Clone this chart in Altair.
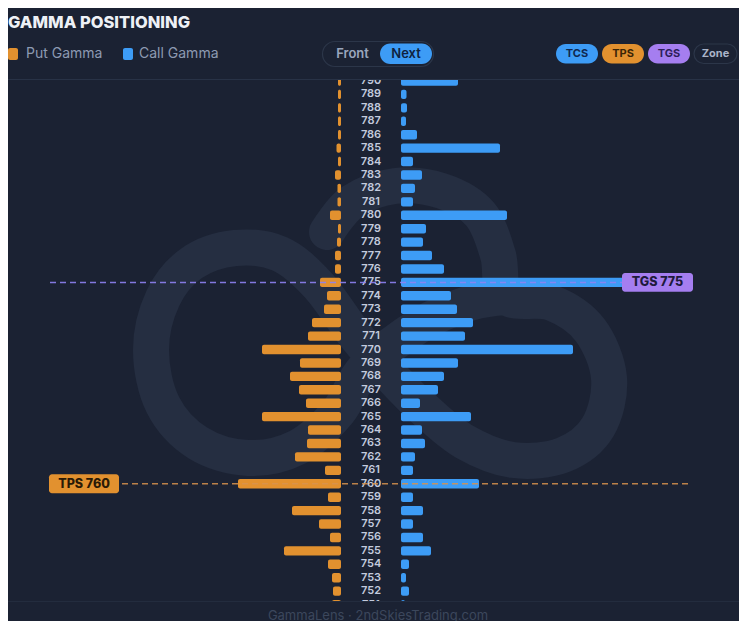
import altair as alt
import pandas as pd

# ---------------- data ----------------
strikes = list(range(790, 750, -1))
put_gamma = [3, 3, 3, 3, 3, 4.5, 3, 6, 3.5, 3.5,
             11, 3, 4, 6, 6, 21, 14, 17, 29, 33,
             79, 41, 51, 42, 35, 79, 33, 34, 46, 16,
             103, 13, 49, 22, 11, 57, 13, 9, 8, 9]
call_gamma = [57, 5.5, 6, 5, 16, 99, 12, 21, 14, 12,
              106, 25, 22, 31, 43, 232, 50, 56, 72, 64,
              172, 57, 43, 37, 19, 70, 21, 24, 14, 12,
              78, 12, 22, 12, 22, 30, 8, 5, 8, 4]
level_names = ["TGS", "TPS"]
level_strikes = [775, 760]

# ---------------- style ----------------
BG = "#1b2233"
ORANGE = "#e2912f"
BLUE = "#3d9cf6"
PURPLE = "#a57ef0"
GRID = "#283246"
FONT = "Inter"
O = 8  # page margin offset (layout written in page pixels)

# watermark logo path (decoration only, page pixels)
logo_x = [327, 352, 395, 442, 480, 498, 506, 552, 590, 609, 598, 563, 513, 465, 425,
          390, 355, 318, 280, 235, 192, 163, 151, 163, 198, 248, 298, 338, 365, 420, 470, 506]
logo_y = [232, 202, 186, 191, 214, 255, 297, 303, 330, 378, 427, 455, 460, 442, 410,
          375, 335, 285, 254, 248, 263, 298, 350, 405, 443, 458, 447, 412, 368, 325, 303, 297]

df = pd.DataFrame({"strike": strikes, "put": put_gamma, "call": call_gamma})
lv = pd.DataFrame({"name": level_names, "strike": level_strikes})
lv["label"] = lv["name"] + " " + lv["strike"].astype(str)
logo = pd.DataFrame({"x": logo_x, "y": logo_y, "i": list(range(len(logo_x)))})
one = pd.DataFrame({"a": [0]})

W, H = 731, 613

yscale = alt.Scale(domain=[751, 790], range=[604.6 - O, 81 - O], nice=False, zero=False)
put_x = alt.Scale(domain=[0, 341], range=[341 - O, -O], nice=False)
call_x = alt.Scale(domain=[0, 346], range=[401 - O, 747 - O], nice=False)

base = alt.Chart(df).transform_calculate(
    lo="datum.strike - 0.35", hi="datum.strike + 0.35", zero="0"
)

# watermark
wm = alt.Chart(logo).mark_line(
    strokeWidth=36, strokeCap="round", strokeJoin="round",
    interpolate="cardinal", color="#252e41"
).encode(
    x=alt.X("x:Q", scale=alt.Scale(domain=[0, 747], range=[-O, 747 - O], nice=False), axis=None),
    y=alt.Y("y:Q", scale=alt.Scale(domain=[0, 629], range=[-O, 629 - O], nice=False, zero=False), axis=None),
    order="i:Q",
)

put_bars = base.mark_bar(color=ORANGE, cornerRadius=2).encode(
    x=alt.X("put:Q", scale=put_x, axis=None),
    x2="zero:Q",
    y=alt.Y("lo:Q", scale=yscale, axis=None),
    y2="hi:Q",
)
call_bars = base.mark_bar(color=BLUE, cornerRadius=2).encode(
    x=alt.X("call:Q", scale=call_x, axis=None),
    x2="zero:Q",
    y=alt.Y("lo:Q", scale=yscale, axis=None),
    y2="hi:Q",
)
labels = alt.Chart(df).mark_text(
    font=FONT, fontSize=11, fontWeight=600, color="#c3cbde", align="center", baseline="middle"
).encode(
    x=alt.value(371 - O),
    y=alt.Y("strike:Q", scale=yscale, axis=None),
    text="strike:N",
)

lvb = alt.Chart(lv).transform_calculate(lo="datum.strike - 0.7", hi="datum.strike + 0.7")

tgs_line = lvb.transform_filter("datum.name == 'TGS'").mark_rule(
    color="#8f82f2", strokeWidth=1.5, strokeDash=[6, 4], opacity=0.9
).encode(x=alt.value(50 - O), x2=alt.value(622 - O), y=alt.Y("strike:Q", scale=yscale, axis=None))
tps_line = lvb.transform_filter("datum.name == 'TPS'").mark_rule(
    color="#d8934d", strokeWidth=1.5, strokeDash=[6, 4], opacity=0.85
).encode(x=alt.value(122 - O), x2=alt.value(690 - O), y=alt.Y("strike:Q", scale=yscale, axis=None))

tgs_badge = lvb.transform_filter("datum.name == 'TGS'").mark_rect(
    color=PURPLE, cornerRadius=3
).encode(x=alt.value(622 - O), x2=alt.value(693 - O),
         y=alt.Y("lo:Q", scale=yscale, axis=None), y2="hi:Q")
tgs_text = lvb.transform_filter("datum.name == 'TGS'").mark_text(
    font=FONT, fontSize=12.5, fontWeight=800, color="#1e1a3c", align="center", baseline="middle"
).encode(x=alt.value(657.5 - O), y=alt.Y("strike:Q", scale=yscale, axis=None), text="label:N")

tps_badge = lvb.transform_filter("datum.name == 'TPS'").mark_rect(
    color=ORANGE, cornerRadius=3
).encode(x=alt.value(49 - O), x2=alt.value(119 - O),
         y=alt.Y("lo:Q", scale=yscale, axis=None), y2="hi:Q")
tps_text = lvb.transform_filter("datum.name == 'TPS'").mark_text(
    font=FONT, fontSize=12.5, fontWeight=800, color="#2a1a06", align="center", baseline="middle"
).encode(x=alt.value(84 - O), y=alt.Y("strike:Q", scale=yscale, axis=None), text="label:N")


def rect(x1, x2, y1, y2, **kw):
    return alt.Chart(one).mark_rect(**kw).encode(
        x=alt.value(x1 - O), x2=alt.value(x2 - O), y=alt.value(y1 - O), y2=alt.value(y2 - O))


def text(t, x, y, **kw):
    args = dict(font=FONT, baseline="middle")
    args.update(kw)
    return alt.Chart(one).mark_text(text=t, **args).encode(x=alt.value(x - O), y=alt.value(y - O))


# header / footer covers
header_cover = rect(0, 760, 0, 79.5, color=BG)
footer_cover = rect(0, 760, 601.5, 640, color=BG)
header_line = rect(0, 760, 79, 80, color=GRID)
footer_line = rect(0, 760, 601, 602, color="#232c3e")

title = text("GAMMA POSITIONING", 8, 23, fontSize=16.5, fontWeight=800, color="#eef1f6", align="left")
leg_put = rect(8, 18, 48, 60, color=ORANGE, cornerRadius=2)
leg_put_t = text("Put Gamma", 26, 54, fontSize=14, color="#8d9ab2", align="left")
leg_call = rect(123, 133, 48, 60, color=BLUE, cornerRadius=2)
leg_call_t = text("Call Gamma", 139, 54, fontSize=14, color="#8d9ab2", align="left")

toggle = rect(322.5, 433.5, 41.5, 66.5, fill=BG, stroke="#2c3649", strokeWidth=1.2, cornerRadius=12.5)
front_t = text("Front", 352.5, 53.5, fontSize=13, fontWeight=600, color="#9aa6bd", align="center")
next_pill = rect(380, 432, 43.5, 64, color=BLUE, cornerRadius=10.5)
next_t = text("Next", 406, 53.5, fontSize=13, fontWeight=600, color="#0f2340", align="center")

tcs_p = rect(556, 598, 44, 63.5, color=BLUE, cornerRadius=9.75)
tcs_t = text("TCS", 577, 54, fontSize=11, fontWeight=700, color="#10284f", align="center")
tps_p = rect(602, 644, 44, 63.5, color=ORANGE, cornerRadius=9.75)
tps_t = text("TPS", 623, 54, fontSize=11, fontWeight=700, color="#3b2506", align="center")
tgs_p = rect(648, 690, 44, 63.5, color=PURPLE, cornerRadius=9.75)
tgs_t = text("TGS", 669, 54, fontSize=11, fontWeight=700, color="#2d1f5a", align="center")
zone_p = rect(694, 737, 44, 63.5, fill=BG, stroke="#2c3649", strokeWidth=1.2, cornerRadius=9.75)
zone_t = text("Zone", 715.5, 54, fontSize=11, fontWeight=700, color="#aab4c8", align="center")

footer_t = text("GammaLens · 2ndSkiesTrading.com", 378, 615.5, fontSize=13, color="#3c475c", align="center")

chart = alt.layer(
    wm, put_bars, call_bars, labels, tgs_line, tps_line,
    tgs_badge, tgs_text, tps_badge, tps_text,
    header_cover, footer_cover, header_line, footer_line,
    title, leg_put, leg_put_t, leg_call, leg_call_t,
    toggle, front_t, next_pill, next_t,
    tcs_p, tcs_t, tps_p, tps_t, tgs_p, tgs_t, zone_p, zone_t,
    footer_t,
).resolve_scale(x="independent", y="independent").properties(
    width=W, height=H,
    autosize=alt.AutoSizeParams(type="none"),
    padding=0,
    background=BG,
).configure_view(stroke=None)

chart.save("out.html", embed_options={"renderer": "svg", "actions": False})
